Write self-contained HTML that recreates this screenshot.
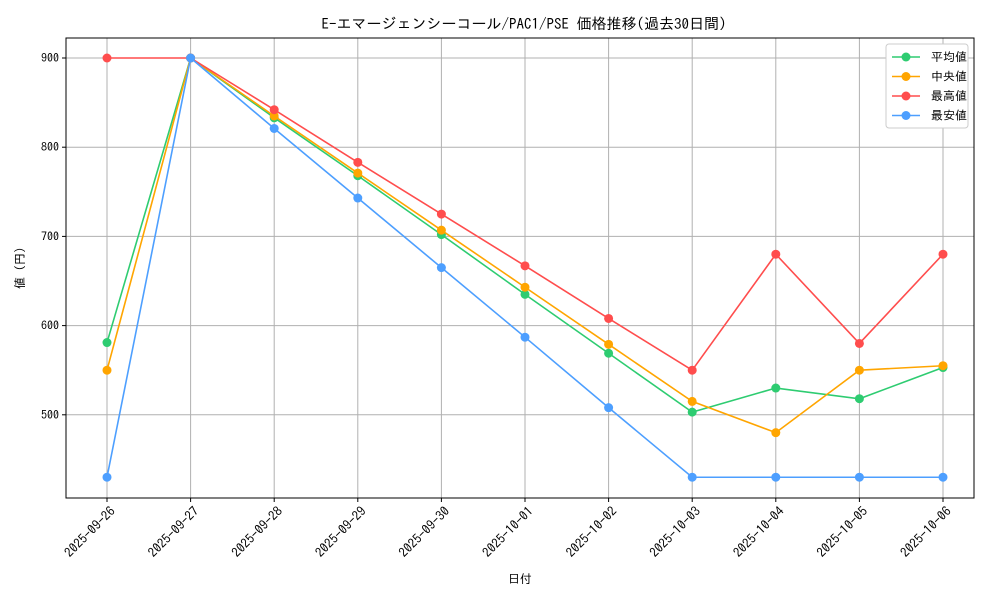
<!DOCTYPE html>
<html><head><meta charset="utf-8"><style>
body{margin:0;background:#fff;}
svg{font-family:"IPAGothic","Noto Sans CJK JP",sans-serif;}
</style></head><body>
<svg id="chart" width="1000" height="600"></svg>
<script>
const categories=["2025-09-26","2025-09-27","2025-09-28","2025-09-29","2025-09-30","2025-10-01","2025-10-02","2025-10-03","2025-10-04","2025-10-05","2025-10-06"];
const avgValues=[581,900,833,768,702,635,569,503,530,518,553];
const medianValues=[550,900,835,771,707,643,579,515,480,550,555];
const maxValues=[900,900,842,783,725,667,608,550,680,580,680];
const minValues=[430,900,821,743,665,587,508,430,430,430,430];
const yTicks=[500,600,700,800,900];
const seriesNames=["平均値","中央値","最高値","最安値"];
const seriesColors=["#2ecc71","#ffa500","#ff4d4d","#4d9fff"];
const NS="http://www.w3.org/2000/svg";
const svg=document.getElementById('chart');
const L=66,R=974,T=38,B=498;
const x=i=>107+i*(943-107)/(categories.length-1);
const y=v=>58+(900-v)*0.892;
function el(tag,attrs,parent){const e=document.createElementNS(NS,tag);for(const k in attrs)e.setAttribute(k,attrs[k]);(parent||svg).appendChild(e);return e;}
categories.forEach((c,i)=>{
 const g=el('line',{x1:x(i),x2:x(i),y1:T,y2:B,stroke:'#b0b0b0','stroke-width':1});
 
 
 el('line',{x1:x(i),x2:x(i),y1:B,y2:B+4,stroke:'#000'});
 const ax=x(i)+9, ay=B+14;
 const t=el('text',{x:ax,y:ay,'font-size':13,'text-anchor':'end',transform:`rotate(-45 ${ax} ${ay})`});
 t.textContent=c;
 
 
});
yTicks.forEach(v=>{
 const g=el('line',{x1:L,x2:R,y1:y(v),y2:y(v),stroke:'#b0b0b0','stroke-width':1});
 
 
 el('line',{x1:L-4,x2:L,y1:y(v),y2:y(v),stroke:'#000'});
 const t=el('text',{x:L-7,y:y(v)+4,'font-size':12,'text-anchor':'end'});
 t.textContent=v;
 
 
});
const frame=el('rect',{x:L,y:T,width:R-L,height:B-T,fill:'none',stroke:'#000','stroke-width':1});


const all=[avgValues,medianValues,maxValues,minValues];
all.forEach((vals,s)=>{
 const p=el('polyline',{points:vals.map((v,i)=>x(i)+','+y(v)).join(' '),fill:'none',stroke:seriesColors[s],'stroke-width':1.6});
 
 
 vals.forEach((v,i)=>{
  const c=el('circle',{cx:x(i),cy:y(v),r:4.5,fill:seriesColors[s]});
  
  
 });
});
const title=el('text',{x:524,y:29,'font-size':15,'text-anchor':'middle'});
title.textContent='E-エマージェンシーコール/PAC1/PSE 価格推移(過去30日間)';


const xt=el('text',{x:520,y:583,'font-size':12,'text-anchor':'middle'});
xt.textContent='日付';


const yt=el('text',{x:24,y:268,'font-size':12,'text-anchor':'middle',transform:'rotate(-90 24 268)'});
yt.textContent='値 (円)';


const lg=el('rect',{x:886,y:44,width:82,height:84,fill:'#fff',stroke:'#ccc',rx:3});


seriesNames.forEach((n,s)=>{
 const yy=57+s*19.5;
 el('line',{x1:892,x2:920,y1:yy,y2:yy,stroke:seriesColors[s],'stroke-width':1.6});
 el('circle',{cx:906,cy:yy,r:4.5,fill:seriesColors[s]});
 const t=el('text',{x:931,y:yy+4,'font-size':12});
 t.textContent=n;
 
 
});
</script>
</body></html>
